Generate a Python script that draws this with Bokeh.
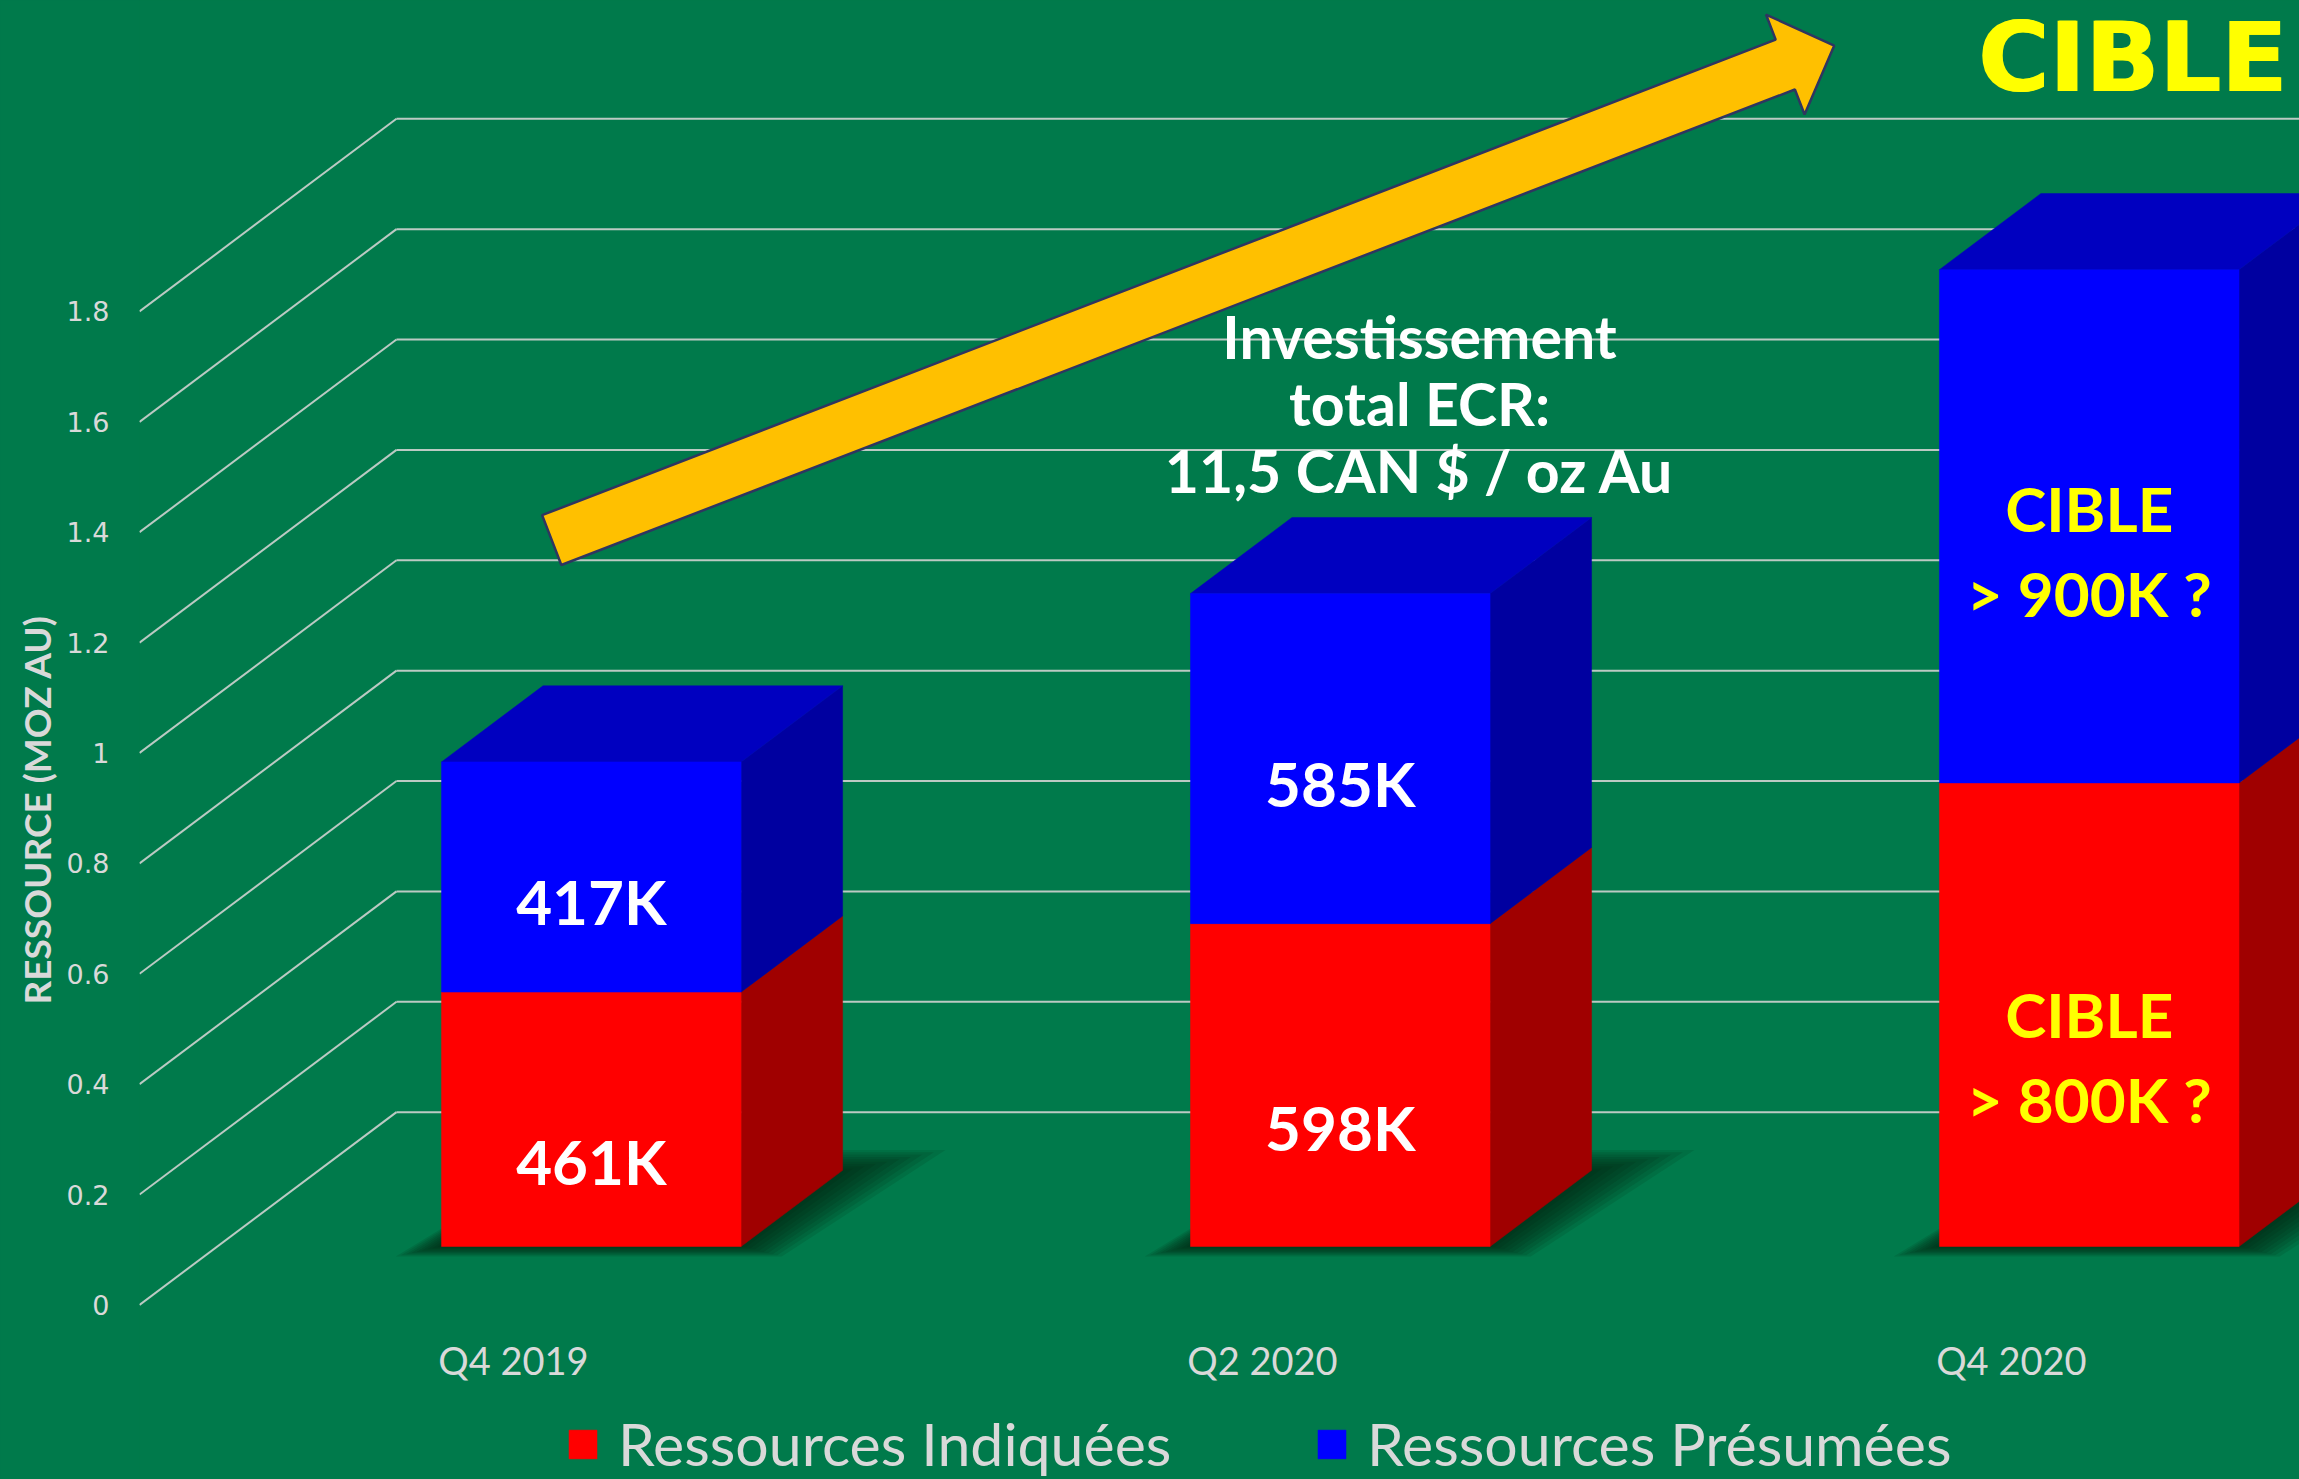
import numpy as np
from bokeh.plotting import figure
from bokeh.models import (ColumnDataSource, Range1d, LinearAxis, FixedTicker,
                          Legend, LegendItem, Title)
from bokeh.core.properties import value
from bokeh.embed import file_html
from bokeh.resources import INLINE

# ---------------- data ----------------
categories = ["Q4 2019", "Q2 2020", "Q4 2020"]
series_names = ["Ressources Indiquées", "Ressources Présumées"]
indiquees = [0.461, 0.585, 0.84]
presumees = [0.417, 0.598, 0.93]
labels_indiquees = ["461K", "598K", "CIBLE\n> 800K ?"]
labels_presumees = ["417K", "585K", "CIBLE\n> 900K ?"]
y_ticks = [0, 0.2, 0.4, 0.6, 0.8, 1.0, 1.2, 1.4, 1.6, 1.8]
y_tick_labels = ["0", "0.2", "0.4", "0.6", "0.8", "1", "1.2", "1.4", "1.6", "1.8"]
y_axis_title = "RESSOURCE (MOZ AU)"
note_lines = ["Investissement", "total ECR:", "11,5 CAN $ / oz Au"]
banner_text = "CIBLE"

# ---------------- layout / style ----------------
W, H = 2299, 1479
LEFT = 139
BG = "#007a4b"
X0, X1 = -0.4993, 2.3847
Y0, Y1 = -0.3164, 2.3635
SX = (W - LEFT) / (X1 - X0)     # px per x unit
SY = H / (Y1 - Y0)              # px per y unit
DX, DY = 0.3431, 0.3492         # full depth vector (data units)
D0, D1 = 0.303, 0.698           # bar depth extent
HW = 0.2                        # bar half width
GRID = "#cfd3d0"
TXT = "#d9d9d9"

p = figure(width=W, height=H, x_range=Range1d(X0, X1), y_range=Range1d(Y0, Y1),
           output_backend="svg", toolbar_location=None,
           x_axis_type=None, y_axis_type=None,
           min_border_left=LEFT, min_border_right=0, min_border_top=0, min_border_bottom=0,
           background_fill_color=BG, border_fill_color=BG, outline_line_color=None)

# ---------------- 3D walls: gridlines ----------------
side_xs = [[X0, X0 + DX] for v in y_ticks]
side_ys = [[v, v + DY] for v in y_ticks]
back_xs = [[X0 + DX, X1 + 0.1] for v in y_ticks]
back_ys = [[v + DY, v + DY] for v in y_ticks]
p.multi_line(xs=side_xs + back_xs, ys=side_ys + back_ys, line_color=GRID,
             line_alpha=0.9, line_width=2)

# ---------------- bars ----------------
def front(i, a, b, d):
    return ([i - HW + d * DX, i + HW + d * DX, i + HW + d * DX, i - HW + d * DX],
            [a + d * DY, a + d * DY, b + d * DY, b + d * DY])

def side(i, a, b):
    xr0, xr1 = i + HW + D0 * DX, i + HW + D1 * DX
    return ([xr0, xr1, xr1, xr0], [a + D0 * DY, a + D1 * DY, b + D1 * DY, b + D0 * DY])

def top(i, t):
    return ([i - HW + D0 * DX, i + HW + D0 * DX, i + HW + D1 * DX, i - HW + D1 * DX],
            [t + D0 * DY, t + D0 * DY, t + D1 * DY, t + D1 * DY])

idx = list(range(len(categories)))

# soft shadows on the floor (layered for blur)
for k in range(9):
    ex = (6 + 6 * k) / SX
    ed_front = (0.004 + 0.006 * k)
    ed_back = (0.01 + 0.012 * k)
    sxs, sys_ = [], []
    for i in idx:
        da, db = D0 - ed_front, D1 + ed_back
        sxs.append([i - HW - 0.6 * ex + da * DX, i + HW + ex + da * DX,
                    i + HW + 1.4 * ex + db * DX, i - HW + db * DX])
        sys_.append([da * DY, da * DY, db * DY, db * DY])
    p.patches(sxs, sys_, fill_color="#001a0c", fill_alpha=0.11, line_color=None)

mids_i = [v / 2 for v in indiquees]
tops_i = list(indiquees)
tops_p = [a + b for a, b in zip(indiquees, presumees)]
mids_p = [a + b / 2 for a, b in zip(indiquees, presumees)]

fr_r = [front(i, 0, tops_i[i], D0) for i in idx]
sd_r = [side(i, 0, tops_i[i]) for i in idx]
fr_b = [front(i, tops_i[i], tops_p[i], D0) for i in idx]
sd_b = [side(i, tops_i[i], tops_p[i]) for i in idx]
tp_b = [top(i, tops_p[i]) for i in idx]

p.patches([f[0] for f in sd_r], [f[1] for f in sd_r], fill_color="#a00000",
          line_color="#a00000", line_width=0.5)
r_red = p.patches([f[0] for f in fr_r], [f[1] for f in fr_r], fill_color="#ff0000",
                  line_color="#ff0000", line_width=0.5)
p.patches([f[0] for f in sd_b], [f[1] for f in sd_b], fill_color="#0000a0",
          line_color="#0000a0", line_width=0.5)
p.patches([f[0] for f in tp_b], [f[1] for f in tp_b], fill_color="#0000c0",
          line_color="#0000c0", line_width=0.5)
r_blue = p.patches([f[0] for f in fr_b], [f[1] for f in fr_b], fill_color="#0000ff",
                   line_color="#0000ff", line_width=0.5)

# ---------------- value labels ----------------
DROP_I, DROP_P = 42 / SY, 24 / SY
lab_x = [i + D0 * DX for i in idx] * 2
lab_y = ([m + D0 * DY - DROP_I for m in mids_i] +
         [m + D0 * DY - DROP_P for m in mids_p])
lab_t = labels_indiquees + labels_presumees
lab_c = ["#ffff00" if "CIBLE" in t else "#ffffff" for t in lab_t]
p.text(x="x", y="y", text="t", text_color="c",
       source=ColumnDataSource(dict(x=lab_x, y=lab_y, t=lab_t, c=lab_c)),
       text_font=value("Lato"), text_font_style="bold", text_font_size="62px",
       text_align="center", text_baseline="middle", text_line_height=1.15)

# ---------------- category labels ----------------
p.text(x=idx, y=[-0.100] * len(idx), text=categories, text_color=TXT,
       text_font=value("Lato"), text_font_size="38px",
       text_align="center", text_baseline="middle")

# ---------------- arrow ----------------
tail = np.array([0.0511 * SX, 1.3858 * SY])
tip = np.array([1.7634 * SX, 2.2816 * SY])
u = (tip - tail) / np.linalg.norm(tip - tail)
n = np.array([-u[1], u[0]])
hw, HHW, HL = 26.7, 53.6, 52.4
base = tip - u * HL
pts = [tail + n * hw, base + n * hw, base + n * HHW, tip,
       base - n * HHW, base - n * hw, tail - n * hw]
p.patch([q[0] / SX for q in pts], [q[1] / SY for q in pts], fill_color="#ffc000",
        line_color="#2f3560", line_width=2.5)

# ---------------- note ----------------
p.text(x=[1.2098] * 3, y=[1.7551 - k * 0.1214 for k in range(3)], text=note_lines,
       text_color="#ffffff", text_font=value("Lato"), text_font_style="bold",
       text_font_size="59px", text_align="center", text_baseline="middle")

# ---------------- banner ----------------
for off in (0, 1.5):
    p.text(x=[1.9547], y=[2.2602], text=[banner_text], x_offset=off,
           text_color="#ffff00", text_font=value("DejaVu Sans"),
           text_font_style="bold", text_font_size="97px",
           text_align="left", text_baseline="middle")

# ---------------- axis ----------------
yaxis = LinearAxis(ticker=FixedTicker(ticks=y_ticks),
                   major_label_overrides={t: l for t, l in zip(y_ticks, y_tick_labels)})
yaxis.axis_line_color = None
yaxis.major_tick_line_color = None
yaxis.minor_tick_line_color = None
yaxis.major_tick_out = 0
yaxis.major_tick_in = 0
yaxis.major_label_standoff = 30
yaxis.major_label_text_font = "DejaVu Sans"
yaxis.major_label_text_font_size = "27px"
yaxis.major_label_text_color = TXT
p.add_layout(yaxis, "left")

ytitle = Title(text=y_axis_title, align="left", offset=H - 1004,
               vertical_align="bottom", standoff=10,
               text_font="Lato", text_font_style="bold", text_font_size="37px",
               text_color=TXT)
p.add_layout(ytitle, "left")

# ---------------- legends ----------------
for rend, name, xloc in [(r_red, series_names[0], 426), (r_blue, series_names[1], 1175)]:
    leg = Legend(items=[LegendItem(label=name, renderers=[rend])], location=(xloc, 0),
                 orientation="horizontal", background_fill_alpha=0,
                 border_line_color=None, padding=0, margin=0,
                 glyph_width=35, glyph_height=36, label_standoff=18,
                 label_text_font="Lato", label_text_font_size="59px",
                 label_text_color=TXT, label_text_baseline="middle")
    p.add_layout(leg)

html = file_html(p, INLINE, title="Ressources")
html = html.replace("</head>",
                    "<style>html,body{background:#007a4b;}"
                    "html{box-shadow:inset 0 4px 0 #d9d9d9;}</style></head>", 1)
open("out.html", "w").write(html)
